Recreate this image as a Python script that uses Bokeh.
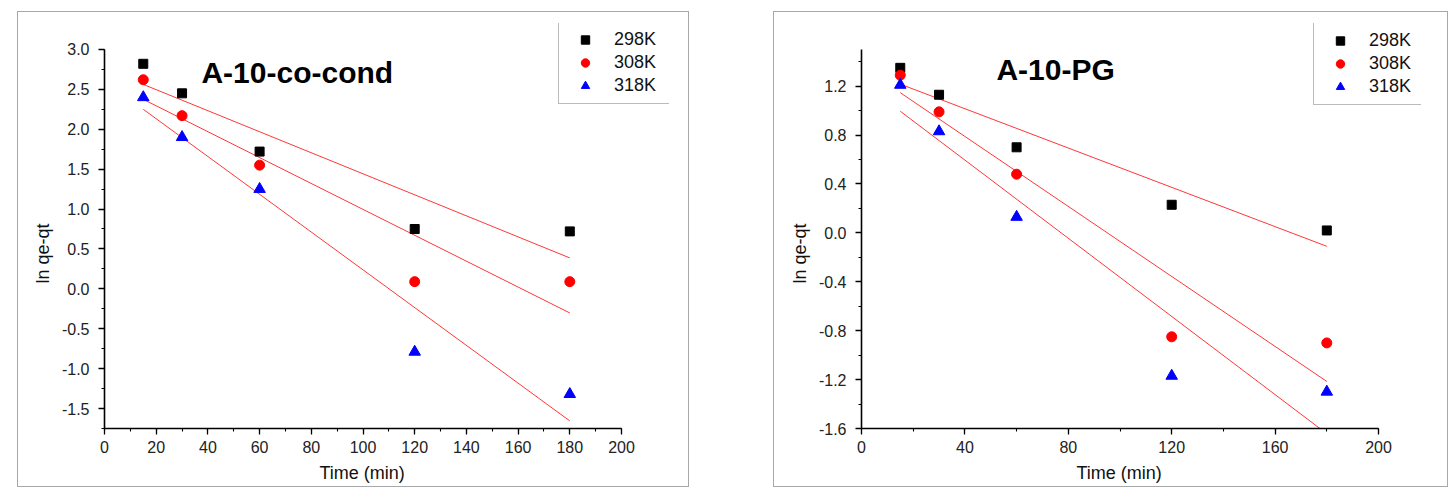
import numpy as np
from bokeh.plotting import figure
from bokeh.models import FixedTicker, PrintfTickFormatter, Label, Spacer, Range1d, Title
from bokeh.layouts import row, column
from bokeh.embed import file_html
from bokeh.resources import INLINE

# ---------------- data ----------------
time_min = [15, 30, 60, 120, 180]
series_labels = ["298K", "308K", "318K"]

# A-10-co-cond
cond_298 = [2.82, 2.45, 1.72, 0.75, 0.72]
cond_308 = [2.62, 2.17, 1.55, 0.09, 0.09]
cond_318 = [2.40, 1.90, 1.25, -0.79, -1.32]

# A-10-PG
pg_298 = [1.35, 1.13, 0.70, 0.23, 0.02]
pg_308 = [1.29, 0.99, 0.48, -0.85, -0.90]
pg_318 = [1.21, 0.83, 0.13, -1.17, -1.30]

left_x_ticks = [0, 20, 40, 60, 80, 100, 120, 140, 160, 180, 200]
left_y_ticks = [-1.5, -1.0, -0.5, 0.0, 0.5, 1.0, 1.5, 2.0, 2.5, 3.0]
right_x_ticks = [0, 40, 80, 120, 160, 200]
right_y_ticks = [-1.6, -1.2, -0.8, -0.4, 0.0, 0.4, 0.8, 1.2]

FONT = "Liberation Sans"
MARKERS = [("square", "black", 9), ("circle", "red", 10), ("triangle", "blue", 11.5)]


def make_panel(title, series, xticks, xminor, yticks, yminor, xrng, yrng, ybounds,
               width, height, mb, title_xy, legend_loc, xlab_off, ylab_off):
    p = figure(width=width, height=height, output_backend="svg", toolbar_location=None,
               x_range=Range1d(*xrng), y_range=Range1d(*yrng),
               min_border_left=mb[0], min_border_right=mb[1],
               min_border_top=mb[2], min_border_bottom=mb[3])
    p.outline_line_color = None
    p.background_fill_color = "white"
    p.border_fill_color = "white"
    p.grid.visible = False
    p.styles = {"border": "1px solid #a8a8a8"}

    for ax in (p.xaxis[0], p.yaxis[0]):
        ax.axis_line_color = "black"
        ax.axis_line_width = 1.6
        ax.major_tick_line_color = "black"
        ax.minor_tick_line_color = "black"
        ax.major_tick_line_width = 1.3
        ax.minor_tick_line_width = 1.1
        ax.major_tick_in = 0
        ax.major_tick_out = 6
        ax.minor_tick_in = 0
        ax.minor_tick_out = 3
        ax.major_label_text_font = FONT
        ax.major_label_text_font_size = "16px"
        ax.major_label_text_color = "#222222"
    p.xaxis.major_label_standoff = 6
    p.yaxis.major_label_standoff = 9

    p.xaxis.bounds = (0, 200)
    p.yaxis.bounds = ybounds
    p.xaxis.ticker = FixedTicker(ticks=xticks, minor_ticks=xminor)
    p.yaxis.ticker = FixedTicker(ticks=yticks, minor_ticks=yminor)
    p.xaxis.formatter = PrintfTickFormatter(format="%d")
    p.yaxis.formatter = PrintfTickFormatter(format="%.1f")

    p.add_layout(Title(text="Time (min)", align="left", offset=xlab_off, standoff=10,
                       text_font=FONT, text_font_size="18px", text_font_style="normal",
                       text_color="#111111"), "below")
    p.add_layout(Title(text="ln qe-qt", align="left", offset=ylab_off, standoff=11,
                       text_font=FONT, text_font_size="18px", text_font_style="normal",
                       text_color="#111111"), "left")

    t = np.array(time_min, dtype=float)
    # linear fit lines
    for vals in series:
        k, b = np.polyfit(t, np.array(vals), 1)
        xs = [t.min(), t.max()]
        p.line(xs, [k * xs[0] + b, k * xs[1] + b], line_color="#ff2020", line_width=0.9)

    for vals, lab, (mk, col, sz) in zip(series, series_labels, MARKERS):
        p.scatter(time_min, vals, marker=mk, size=sz, fill_color=col, line_color=col,
                  legend_label=lab)

    lg = p.legend[0]
    lg.location = legend_loc
    lg.border_line_color = "#777777"
    lg.border_line_width = 1
    lg.background_fill_color = "white"
    lg.background_fill_alpha = 1
    lg.label_text_font = FONT
    lg.label_text_font_size = "18px"
    lg.label_text_color = "#111111"
    lg.padding = 7
    lg.margin = 0
    lg.spacing = 2
    lg.glyph_width = 38
    lg.glyph_height = 21
    lg.label_height = 21
    lg.label_standoff = 10
    lg.label_width = 48

    p.add_layout(Label(x=title_xy[0], y=title_xy[1], text=title, text_font=FONT,
                       text_font_size="30px", text_font_style="bold", text_color="black",
                       text_baseline="middle", text_align="left"))
    return p


left_minor_x = list(range(0, 201, 10))
left_minor_y = [-1.75 + 0.25 * i for i in range(20)]
right_minor_x = list(range(0, 201, 20))
right_minor_y = [round(-1.6 + 0.2 * i, 2) for i in range(16)]

# frame extended up/right so the legend box (which overhangs the axes) is not clipped
p1 = make_panel("A-10-co-cond", [cond_298, cond_308, cond_318],
                left_x_ticks, left_minor_x, left_y_ticks, left_minor_y,
                (0, 565 * 200 / 517), (-1.75, -1.75 + 406 * 4.75 / 380), (-1.75, 3.0),
                672, 476, (86, 21, 11, 59), (37.5, 2.715), (454, 324), 215, 145)
p2 = make_panel("A-10-PG", [pg_298, pg_308, pg_318],
                right_x_ticks, right_minor_x, right_y_ticks, right_minor_y,
                (0, 560 * 200 / 517), (-1.6, -1.6 + 405 * 3.1 / 379), (-1.6, 1.5),
                675, 476, (87, 28, 11, 60), (52.2, 1.336), (452, 323), 215, 145)

layout = column(Spacer(height=11),
                row(Spacer(width=17), p1, Spacer(width=84), p2))

with open("out.html", "w") as f:
    f.write(file_html(layout, INLINE))
